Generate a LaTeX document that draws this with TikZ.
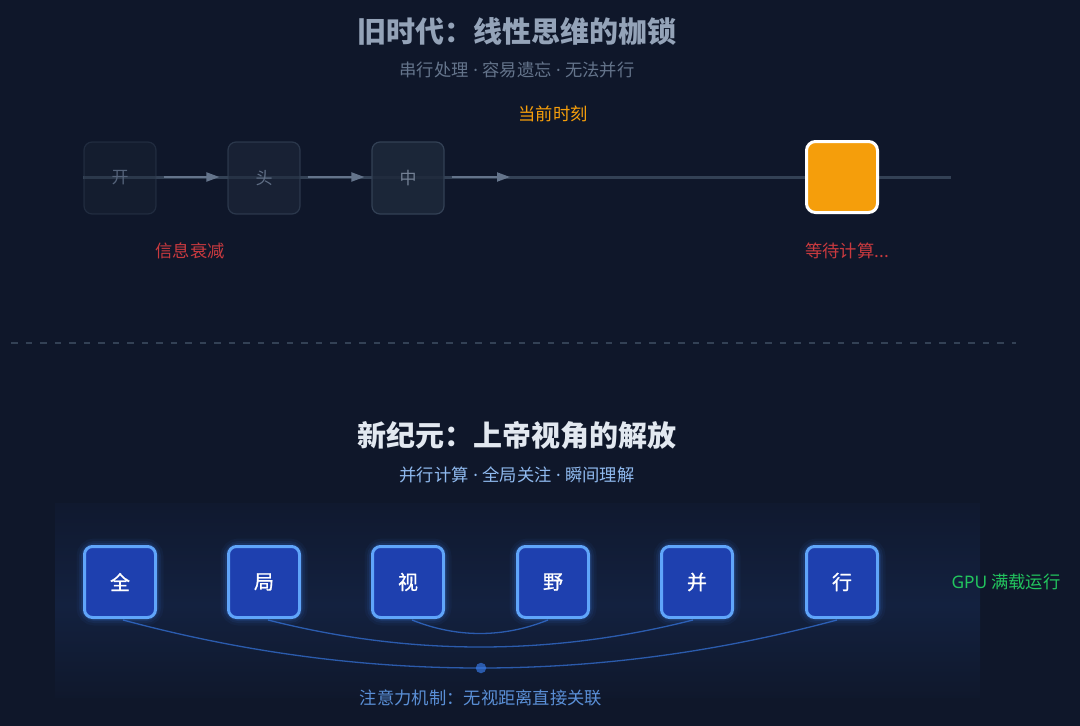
\documentclass[tikz,border=0pt]{standalone}
\usepackage{fontspec}
\setmainfont{Noto Sans CJK SC}
\newfontfamily\latinsans{Noto Sans}
\newfontfamily\boxfont{Noto Sans CJK SC}[FakeBold=0.9]
\usetikzlibrary{arrows.meta}
\definecolor{bg}{HTML}{0F172A}
\definecolor{slatefour}{HTML}{94A3B8}
\definecolor{slatefive}{HTML}{64748B}
\definecolor{slatesev}{HTML}{334155}
\definecolor{slateeight}{HTML}{1E293B}
\definecolor{orangec}{HTML}{F59E0B}
\definecolor{redc}{HTML}{C93A3F}
\definecolor{titlenew}{HTML}{E2E8F0}
\definecolor{subnew}{HTML}{8FB9EE}
\definecolor{blueboxfill}{HTML}{1E40AF}
\definecolor{blueborder}{HTML}{60A5FA}
\definecolor{bluefive}{HTML}{3B82F6}
\definecolor{greenc}{HTML}{22C55E}
\definecolor{labelblue}{HTML}{5A8FD6}
\definecolor{panelmid}{HTML}{13213F}
\definecolor{paneltop}{HTML}{10192F}
\newcommand{\sepdot}{{\latinsans\ ·\ }}
\tikzset{
  oldbox/.style={draw=slatesev, line width=1.2pt, fill=slateeight, rounded corners=8pt,
    minimum size=72pt, inner sep=0pt, font=\fontsize{17}{17}\selectfont},
  nowbox/.style={draw=white, line width=3pt, fill=orangec, rounded corners=9pt,
    minimum size=71pt, inner sep=0pt},
  newbox/.style={draw=blueborder, line width=3pt, fill=blueboxfill, rounded corners=8pt,
    minimum size=71pt, inner sep=0pt, text=white, font=\boxfont\fontsize{20}{20}\selectfont},
  glow/.style={draw=bluefive, rounded corners=10pt, minimum size=71pt, inner sep=0pt},
  flowarrow/.style={draw=slatefive, line width=2pt, -{Triangle[length=13pt,width=9pt]}},
  attn/.style={draw=bluefive, draw opacity=0.62, line width=1.3pt},
  smalltext/.style={font=\fontsize{17.3}{17.3}\selectfont, inner sep=0pt},
  titletext/.style={font=\fontsize{29}{29}\selectfont\bfseries, inner sep=0pt},
}
\begin{document}
\begin{tikzpicture}[x=1pt,y=-1pt]
\fill[bg] (0,0) rectangle (1080,726);
\useasboundingbox (0,0) rectangle (1080,726);

% ---------- top section ----------
\node[titletext, text=slatefour] (oldtitle) at (517,31) {旧时代：线性思维的枷锁};
\node[smalltext, text=slatefive] (oldsub) at (517,70) {串行处理\sepdot 容易遗忘\sepdot 无法并行};
\node[smalltext, text=orangec] (nowlabel) at (553,114) {当前时刻};

\coordinate (linestart) at (83,177);
\coordinate (lineend) at (951,177);
\draw[slatesev, line width=3pt] (linestart) -- (lineend);

\node[oldbox, fill opacity=0.35, draw opacity=0.45, text opacity=1, text=slatefive!82!bg] (b1) at (120,178) {开};
\node[oldbox, fill opacity=0.6, draw opacity=0.75, text opacity=1, text=slatefive!95!bg] (b2) at (264,178) {头};
\node[oldbox, fill opacity=0.85, draw opacity=1, text opacity=1, text=slatefour!75!bg] (b3) at (408,178) {中};
\node[nowbox] (bnow) at (842,177) {};

\coordinate (a3end) at (510,177);
\draw[flowarrow] ([xshift=7pt]b1.east |- linestart) -- ([xshift=-8pt]b2.west |- linestart);
\draw[flowarrow] ([xshift=7pt]b2.east |- linestart) -- ([xshift=-7pt]b3.west |- linestart);
\draw[flowarrow] ([xshift=7pt]b3.east |- linestart) -- (a3end);

\node[smalltext, text=redc] (decay) at (190,251) {信息衰减};
\node[smalltext, text=redc] (waiting) at (847,251) {等待计算...};

% separator
\coordinate (sepL) at (11,343);
\coordinate (sepR) at (1016,343);
\draw[slatesev, line width=2pt, dash pattern=on 6.5pt off 8pt] (sepL) -- (sepR);

% ---------- bottom section ----------
\node[titletext, text=titlenew] (newtitle) at (517,435) {新纪元：上帝视角的解放};
\node[smalltext, text=subnew] (newsub) at (517,475) {并行计算\sepdot 全局关注\sepdot 瞬间理解};

\shade[top color=paneltop, bottom color=panelmid] (55,503) rectangle (980,605);
\shade[top color=panelmid, bottom color=bg!90!panelmid] (55,605) rectangle (980,697);

% glow layers
\foreach \x in {120,264,408,553,697,842}{
  \node[glow, line width=16pt, draw opacity=0.05] at (\x,582) {};
  \node[glow, line width=11pt, draw opacity=0.08] at (\x,582) {};
  \node[glow, line width=7pt, draw opacity=0.12] at (\x,582) {};
}

\node[newbox] (n1) at (120,582) {全};
\node[newbox] (n2) at (264,582) {局};
\node[newbox] (n3) at (408,582) {视};
\node[newbox] (n4) at (553,582) {野};
\node[newbox] (n5) at (697,582) {并};
\node[newbox] (n6) at (842,582) {行};

% attention curves
\draw[attn] ([xshift=3pt,yshift=-1pt]n1.south) .. controls (361,684) and (599,684) .. ([xshift=-5pt,yshift=-1pt]n6.south);
\draw[attn] ([xshift=4pt,yshift=-1pt]n2.south) .. controls (410,656) and (551,656) .. ([xshift=-4pt,yshift=-1pt]n5.south);
\draw[attn] ([xshift=4pt,yshift=-1pt]n3.south) .. controls (457,638) and (503,638) .. ([xshift=-5pt,yshift=-1pt]n4.south);
\node[circle, fill=bluefive, fill opacity=0.62, minimum size=10.5pt, inner sep=0pt] (hub) at (481,668) {};

\node[smalltext, text=labelblue] (attnlabel) at (481,698) {注意力机制：无视距离直接关联};
\node[smalltext, text=greenc] (gpu) at (1006,582) {{\latinsans GPU} 满载运行};
\end{tikzpicture}
\end{document}
